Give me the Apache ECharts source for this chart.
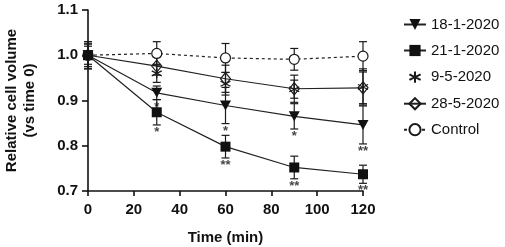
<!DOCTYPE html>
<html><head><meta charset="utf-8">
<script src="https://cdn.jsdelivr.net/npm/echarts@6/dist/echarts.min.js"></script>
<style>html,body{margin:0;padding:0;background:#fff}#c{width:505px;height:247px}</style>
</head><body><div id="c"></div>
<script>
const times = [0, 30, 60, 90, 120];
const names = ['18-1-2020', '21-1-2020', '9-5-2020', '28-5-2020', 'Control'];
const v18 = [1.0, 0.917, 0.889, 0.865, 0.846];
const e18 = [0.03, 0.015, 0.04, 0.028, 0.042];
const v21 = [1.0, 0.874, 0.798, 0.752, 0.737];
const e21 = [0.03, 0.028, 0.025, 0.025, 0.02];
const v95 = [1.0, 0.960, 0.937, 0.925, 0.930];
const e95 = [0.025, 0.02, 0.025, 0.02, 0.04];
const v285 = [1.0, 0.976, 0.948, 0.926, 0.928];
const e285 = [0.02, 0.02, 0.03, 0.03, 0.035];
const vCtrl = [1.0, 1.004, 0.994, 0.991, 0.998];
const eCtrl = [0.025, 0.026, 0.032, 0.024, 0.032];
const sig18 = ['', '*', '*', '*', '**'];
const sig21 = ['', '*', '**', '**', '**'];
const xTicks = [0, 20, 40, 60, 80, 100, 120];
const yTicks = [0.7, 0.8, 0.9, 1.0, 1.1];

const FONT = 'Arial, "Liberation Sans", sans-serif';
const pts = v => times.map((t, i) => [t, v[i]]);
const errData = (v, e) => times.map((t, i) => [t, v[i], e[i]]);
const sigData = (v, e, s) => times.map((t, i) => [t, v[i] - e[i], s[i]]);

function errRender(params, api) {
  const x = api.value(0), y = api.value(1), e = api.value(2);
  const a = api.coord([x, y + e]), b = api.coord([x, y - e]);
  const hw = 4;
  const st = { stroke: '#1a1a1a', lineWidth: 1.2 };
  return { type: 'group', children: [
    { type: 'line', shape: { x1: a[0], y1: a[1], x2: b[0], y2: b[1] }, style: st },
    { type: 'line', shape: { x1: a[0] - hw, y1: a[1], x2: a[0] + hw, y2: a[1] }, style: st },
    { type: 'line', shape: { x1: b[0] - hw, y1: b[1], x2: b[0] + hw, y2: b[1] }, style: st }
  ]};
}
function errSeries(v, e) {
  return { type: 'custom', renderItem: errRender, data: errData(v, e), z: 1, silent: true,
    encode: { x: 0, y: 1 } };
}
function sigSeries(v, e, s) {
  return { type: 'scatter', data: sigData(v, e, s), symbolSize: 0, silent: true, z: 5,
    label: { show: true, position: 'bottom', distance: 1, formatter: p => p.data[2],
      color: '#111', fontSize: 13, fontWeight: 'bold', fontFamily: FONT } };
}
const astPath = 'path://M5,0L5,10M0.7,2.5L9.3,7.5M0.7,7.5L9.3,2.5';

const chart = echarts.init(document.getElementById('c'));
chart.setOption({
  animation: false,
  backgroundColor: '#fff',
  grid: { left: 88, right: 142, top: 10, bottom: 56, containLabel: false, outerBoundsMode: 'none' },
  legend: {
    data: names, orient: 'vertical', left: 398, top: 12, itemWidth: 22, itemHeight: 14, itemGap: 11,
    textStyle: { fontSize: 15, color: '#111', fontFamily: FONT }
  },
  xAxis: {
    type: 'value', min: 0, max: 120, interval: 20,
    name: 'Time (min)', nameLocation: 'middle', nameGap: 39,
    nameTextStyle: { fontSize: 15, fontWeight: 'bold', color: '#111', fontFamily: FONT },
    axisLine: { lineStyle: { color: '#111', width: 1.6 } },
    axisTick: { length: 5, lineStyle: { color: '#111', width: 1.6 } },
    axisLabel: { fontSize: 15, fontWeight: 'bold', color: '#111', fontFamily: FONT, margin: 11,
      customValues: xTicks },
    splitLine: { show: false }
  },
  yAxis: {
    type: 'value', min: 0.7, max: 1.1, interval: 0.1,
    name: 'Relative cell volume\n(vs time 0)', nameLocation: 'middle', nameGap: 49, nameRotate: 90,
    nameTextStyle: { fontSize: 15, fontWeight: 'bold', color: '#111', fontFamily: FONT, lineHeight: 18 },
    axisLine: { show: true, lineStyle: { color: '#111', width: 1.6 } },
    axisTick: { show: true, length: 6, lineStyle: { color: '#111', width: 1.6 } },
    axisLabel: { fontSize: 15, fontWeight: 'bold', color: '#111', fontFamily: FONT, margin: 10,
      formatter: v => v.toFixed(1) },
    splitLine: { show: false }
  },
  series: [
    errSeries(vCtrl, eCtrl), errSeries(v285, e285), errSeries(v95, e95), errSeries(v18, e18), errSeries(v21, e21),
    { name: names[4], type: 'line', data: pts(vCtrl), symbol: 'circle', symbolSize: 10, z: 3,
      lineStyle: { color: '#222', width: 1.2, type: [3, 3] },
      itemStyle: { color: '#fff', borderColor: '#1a1a1a', borderWidth: 1.2 } },
    { name: names[3], type: 'line', data: pts(v285), symbol: 'diamond', symbolSize: [10, 12], z: 3,
      lineStyle: { color: '#222', width: 1.2 },
      itemStyle: { color: 'rgba(255,255,255,0)', borderColor: '#1a1a1a', borderWidth: 1.2 } },
    { name: names[2], type: 'line', data: pts(v95), symbol: astPath, symbolSize: 10, z: 3,
      lineStyle: { width: 0, opacity: 0 },
      itemStyle: { color: 'none', borderColor: '#1a1a1a', borderWidth: 1.2 } },
    { name: names[0], type: 'line', data: pts(v18), symbol: 'triangle', symbolRotate: 180, symbolSize: [11, 10], z: 3,
      lineStyle: { color: '#222', width: 1.2 },
      itemStyle: { color: '#111', borderColor: '#111', borderWidth: 0 } },
    { name: names[1], type: 'line', data: pts(v21), symbol: 'rect', symbolSize: 10, z: 3,
      lineStyle: { color: '#222', width: 1.2 },
      itemStyle: { color: '#111' } },
    sigSeries(v18, e18, sig18), sigSeries(v21, e21, sig21)
  ]
});
</script></body></html>
